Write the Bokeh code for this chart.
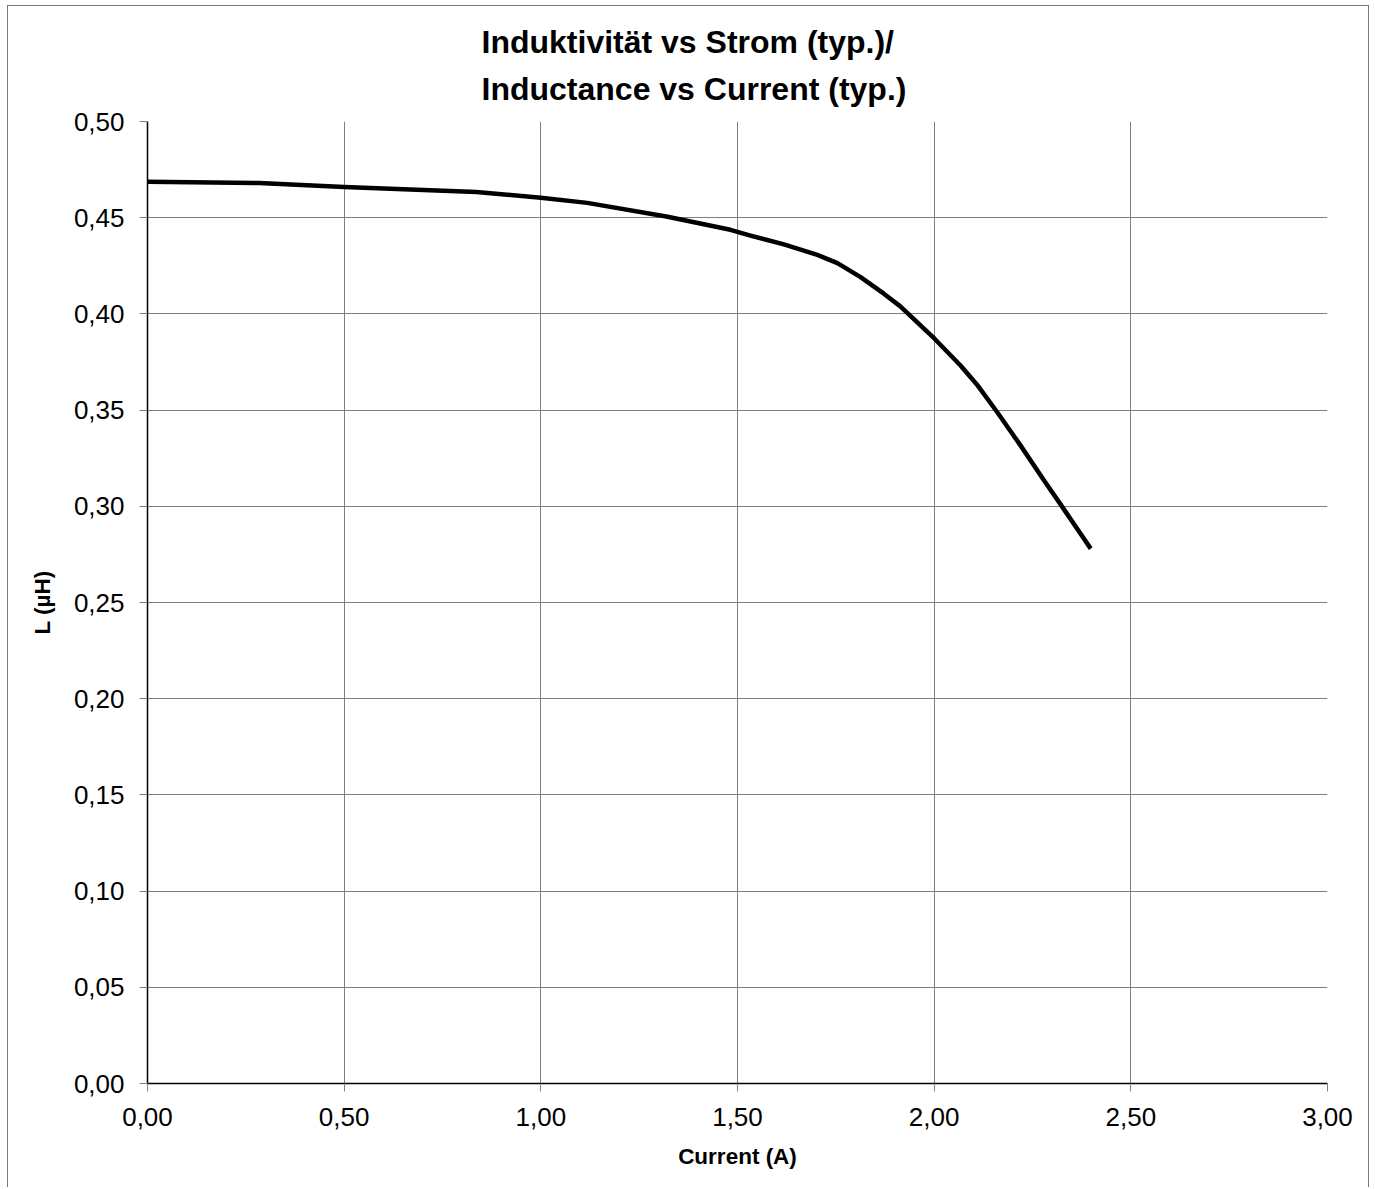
from bokeh.plotting import figure
from bokeh.models import FixedTicker, CustomJSTickFormatter, Range1d, Title
from bokeh.embed import file_html
from bokeh.resources import INLINE

current_a = [0.000, 0.284, 0.500, 0.836, 1.000, 1.118, 1.319, 1.482, 1.533, 1.618, 1.703, 1.754, 1.813,
             1.872, 1.914, 2.001, 2.067, 2.109, 2.160, 2.219, 2.279, 2.330, 2.364, 2.398]
inductance_uh = [0.4687, 0.4680, 0.4659, 0.4633, 0.4604, 0.4577, 0.4506, 0.4437, 0.4407, 0.4361, 0.4307, 0.4264,
                 0.4191, 0.4105, 0.4039, 0.3871, 0.3732, 0.3632, 0.3490, 0.3318, 0.3136, 0.2984, 0.2882, 0.2780]

x_ticks = [0.0, 0.5, 1.0, 1.5, 2.0, 2.5, 3.0]
y_ticks = [0.00, 0.05, 0.10, 0.15, 0.20, 0.25, 0.30, 0.35, 0.40, 0.45, 0.50]

title_lines = ["Induktivität vs Strom (typ.)/", "Inductance vs Current (typ.)"]
x_label = "Current (A)"
y_label = "L (µH)"

FONT = "Liberation Sans"
W, H = 1362, 1182
ML, MR, MT, MB = 139, 43, 115, 105

p = figure(width=W, height=H, output_backend="svg", toolbar_location=None,
           x_range=Range1d(0, 3), y_range=Range1d(0, 0.5),
           min_border_left=ML, min_border_right=MR, min_border_top=MT, min_border_bottom=MB)
p.styles = {"border-left": "1px solid #7a7a7a", "border-top": "1px solid #7a7a7a",
            "border-right": "1px solid #7a7a7a", "margin-left": "7px", "margin-top": "5px"}
p.outline_line_color = None
p.background_fill_color = "white"
p.border_fill_color = "white"

fmt = CustomJSTickFormatter(code="return tick.toFixed(2).replace('.', ',');")
for ax, ticks in ((p.xaxis[0], x_ticks), (p.yaxis[0], y_ticks)):
    ax.ticker = FixedTicker(ticks=ticks)
    ax.formatter = fmt
    ax.minor_tick_line_color = None
    ax.major_tick_in = 0
    ax.major_tick_out = 8
    ax.major_tick_line_color = "#808080"
    ax.axis_line_color = "black"
    ax.axis_line_width = 1.5
    ax.major_label_text_font = FONT
    ax.major_label_text_font_size = "26px"
    ax.major_label_text_color = "black"
    ax.axis_label_text_font = FONT
    ax.axis_label_text_font_size = "22.5px"
    ax.axis_label_text_font_style = "bold"
    ax.axis_label_text_color = "black"

p.xaxis.major_label_standoff = 16
p.yaxis.major_label_standoff = 15
p.xaxis.axis_label = x_label
p.yaxis.axis_label = y_label
p.xaxis.axis_label_standoff = 15
p.yaxis.axis_label_standoff = 16

for g in (p.xgrid[0], p.ygrid[0]):
    g.grid_line_color = "#7f7f7f"
    g.grid_line_width = 1

p.line(current_a, inductance_uh, line_color="black", line_width=4.5, line_join="round", line_cap="butt")

p.add_layout(Title(text="\n".join(title_lines), align="left", offset=334, standoff=28,
                   text_font=FONT, text_font_size="32px", text_font_style="bold",
                   text_line_height=1.33, text_color="black"), "above")

open("out.html", "w").write(file_html(p, INLINE))
